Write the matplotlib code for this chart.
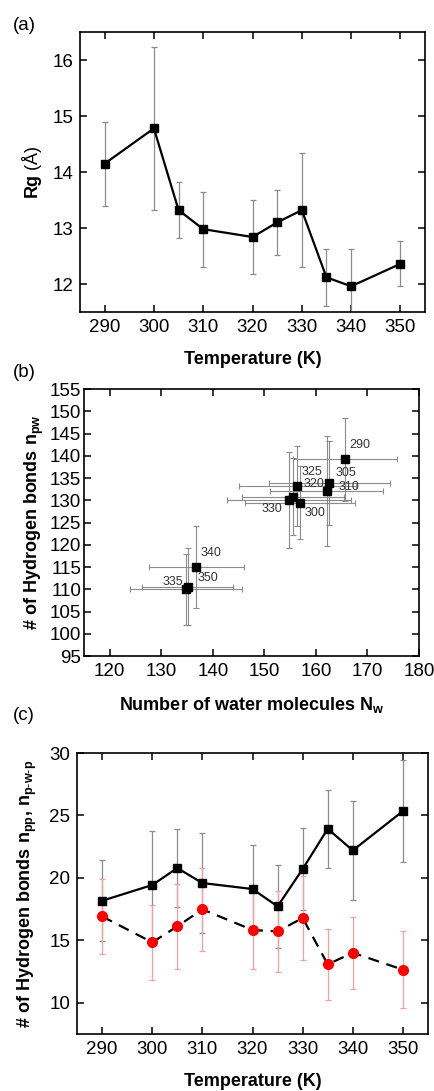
import matplotlib as mpl
mpl.use('Agg')
import matplotlib.pyplot as plt

mpl.rcParams["font.family"] = 'Liberation Sans'
mpl.rcParams["mathtext.fontset"] = 'custom'
mpl.rcParams["mathtext.rm"] = 'Liberation Sans'
mpl.rcParams["mathtext.bf"] = 'Liberation Sans:bold'
mpl.rcParams["font.size"] = 13

# (a) radius of gyration vs temperature
temps = [290, 300, 305, 310, 320, 325, 330, 335, 340, 350]
rg = [14.15, 14.78, 13.32, 12.98, 12.84, 13.10, 13.32, 12.12, 11.96, 12.36]
rg_err = [0.75, 1.45, 0.50, 0.67, 0.66, 0.58, 1.02, 0.51, 0.67, 0.40]

# (b) hydrogen bonds vs number of water molecules, one point per temperature
pt_labels = ['290', '300', '305', '310', '320', '325', '330', '335', '340', '350']
nw = [165.7, 156.9, 162.6, 162.1, 155.6, 156.4, 154.8, 134.8, 136.8, 135.1]
nw_err = [10.1, 10.7, 11.8, 11.0, 9.9, 11.3, 12.0, 10.8, 9.2, 8.9]
npw = [139.2, 129.5, 133.9, 132.1, 130.8, 133.2, 130.1, 110.0, 115.1, 110.6]
npw_err = [9.4, 8.2, 9.5, 12.3, 8.6, 9.0, 10.8, 8.0, 9.2, 8.7]

# (c) n_pp and n_p-w-p vs temperature
npp = [18.17, 19.43, 20.79, 19.59, 19.11, 17.72, 20.71, 23.93, 22.20, 25.35]
npp_err = [3.25, 4.32, 3.12, 4.00, 3.50, 3.31, 3.25, 3.13, 3.95, 4.10]
npwp = [16.92, 14.84, 16.12, 17.48, 15.83, 15.72, 16.79, 13.08, 14.01, 12.65]
npwp_err = [3.02, 3.00, 3.43, 3.30, 3.15, 3.27, 3.36, 2.86, 2.87, 3.07]

# label offsets (points) for panel (b) annotations
label_off = {'290': (10.6, 10.3), '325': (10.8, 10.3), '320': (14.9, 9.1),
             '305': (11.7, 6.8), '310': (16.3, 2.9), '330': (-12.5, -6.7),
             '300': (10.6, -7.2), '340': (10.3, 10.1), '350': (14.4, 6.5),
             '335': (-9.6, 5.5)}

fig = plt.figure(figsize=(4.34, 10.91), dpi=100)
ax1 = fig.add_axes([0.1843, 0.714, 0.795, 0.2566])
ax2 = fig.add_axes([0.1935, 0.3987, 0.772, 0.2447])
ax3 = fig.add_axes([0.1774, 0.0522, 0.8088, 0.2576])

for ax in (ax1, ax2, ax3):
    ax.tick_params(direction='in', top=True, right=True, length=5, width=1.1, labelsize=13.5, pad=5)
    for s in ax.spines.values():
        s.set_linewidth(1.2)

grey = '#8c8c8c'
# (a)
ax1.errorbar(temps, rg, yerr=rg_err, fmt='-s', color='k', lw=1.6, ms=6,
             ecolor=grey, elinewidth=0.9, capsize=2.5, capthick=0.9)
ax1.set_xlim(285, 355)
ax1.set_ylim(11.5, 16.5)
ax1.set_xticks([290, 300, 310, 320, 330, 340, 350])
ax1.set_yticks([12, 13, 14, 15, 16])
ax1.set_xlabel('Temperature (K)', fontsize=13, fontweight='bold', labelpad=11)
ax1.set_ylabel(r'$\mathbf{Rg}$ (Å)', fontsize=13, labelpad=6)

# (b)
ax2.errorbar(nw, npw, xerr=nw_err, yerr=npw_err, fmt='s', color='k', ms=5.5,
             ecolor=grey, elinewidth=0.8, capsize=2, capthick=0.8)
for lab, x, y in zip(pt_labels, nw, npw):
    ax2.annotate(lab, (x, y), xytext=label_off[lab], textcoords='offset points',
                 ha='center', va='center', fontsize=9, color='#333333')
ax2.set_xlim(115, 180)
ax2.set_ylim(95, 155)
ax2.set_xticks(range(120, 181, 10))
ax2.set_yticks(range(95, 156, 5))
ax2.tick_params(axis='y', pad=2)
ax2.set_xlabel(r'Number of water molecules N$_{\mathbf{w}}$', fontsize=13,
               fontweight='bold', labelpad=11)
ax2.set_ylabel(r'# of Hydrogen bonds n$_{\mathbf{pw}}$', fontsize=13,
               fontweight='bold', labelpad=3)

# (c)
ax3.errorbar(temps, npp, yerr=npp_err, fmt='-s', color='k', lw=1.6, ms=6,
             ecolor=grey, elinewidth=0.9, capsize=2.5, capthick=0.9)
ax3.errorbar(temps, npwp, yerr=npwp_err, fmt='o', ls=(0, (5, 3.5)), color='k',
             lw=1.6, mfc='#ff0000', mec='#ff0000', ms=7,
             ecolor='#f4a0a0', elinewidth=0.9, capsize=2.5, capthick=0.9)
ax3.set_xlim(285, 355)
ax3.set_ylim(7.5, 30)
ax3.set_xticks([290, 300, 310, 320, 330, 340, 350])
ax3.set_yticks([10, 15, 20, 25, 30])
ax3.set_xlabel('Temperature (K)', fontsize=13, fontweight='bold', labelpad=11)
ax3.set_ylabel(r'# of Hydrogen bonds n$_{\mathbf{pp}}$, n$_{\mathbf{p\text{-}w\text{-}p}}$',
               fontsize=13, fontweight='bold', labelpad=7)

fig.text(0.03, 0.977, '(a)', fontsize=13.5, va='center')
fig.text(0.03, 0.659, '(b)', fontsize=13.5, va='center')
fig.text(0.03, 0.344, '(c)', fontsize=13.5, va='center')

plt.savefig('out.png', dpi=100)
